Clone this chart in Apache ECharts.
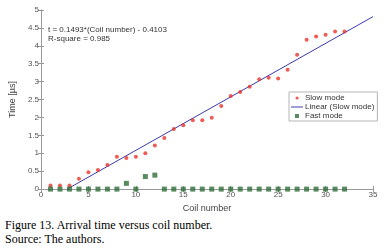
<!DOCTYPE html>
<html>
<head>
<meta charset="UTF-8">
<title>Arrival time versus coil number</title>
<script src="https://cdn.jsdelivr.net/npm/echarts@6/dist/echarts.min.js"></script>
<style>
body { margin: 0; padding: 0; background: #fff; }
#main { width: 386px; height: 218px; }
.cap { font-family: "Liberation Serif", "DejaVu Serif", serif; font-size: 12px; color: #000; margin-left: 5px; line-height: 14px; }
</style>
</head>
<body>
<div id="main"></div>
<div class="cap">Figure 13. Arrival time versus coil number.<br>Source: The authors.</div>
<script>
// coil numbers
var coils = [1,2,3,4,5,6,7,8,9,10,11,12,13,14,15,16,17,18,19,20,21,22,23,24,25,26,27,28,29,30,31,32];
// slow mode arrival time [us]
var slowTimes = [0.1,0.1,0.1,0.29,0.47,0.53,0.67,0.9,0.87,0.9,1.0,1.22,1.43,1.68,1.78,1.92,1.92,1.99,2.32,2.6,2.71,2.86,3.07,3.11,3.09,3.33,3.75,4.17,4.26,4.31,4.4,4.4];
// fast mode arrival time [us]
var fastTimes = [0,0,0,0,0,0,0,0,0.16,0,0.35,0.39,0,0,0,0,0,0,0,0,0,0,0,0,0,0,0,0,0,0,0,0];
// linear fit end points (x, t)
var fitX = [2.75, 35];
var fitT = [0, 4.815];

var slowData = coils.map(function (c, i) { return [c, slowTimes[i]]; });
var fastData = coils.map(function (c, i) { return [c, fastTimes[i]]; });
var fitData = fitX.map(function (x, i) { return [x, fitT[i]]; });

var axisCol = '#9a9a9a';
var labelCol = '#555';
var fontFam = '"Liberation Sans", Arial, sans-serif';

var myChart = echarts.init(document.getElementById('main'));
var option = {
    animation: false,
    grid: { left: 32, right: 13, top: 10, bottom: 14 },
    graphic: [
        { type: 'text', left: 48, top: 26, style: { text: 't = 0.1493*(Coil number) - 0.4103', fontSize: 8, fontFamily: fontFam, fill: '#333' } },
        { type: 'text', left: 48, top: 35, style: { text: 'R-square = 0.985', fontSize: 8, fontFamily: fontFam, fill: '#333' } }
    ],
    legend: {
        orient: 'vertical',
        left: 289, top: 92,
        width: 83,
        padding: [2, 3, 1, 2],
        itemGap: 1,
        itemWidth: 12,
        itemHeight: 6,
        borderColor: '#b5b5b5',
        borderWidth: 1,
        textStyle: { fontSize: 8, fontFamily: fontFam, color: '#333', padding: [0, 0, 0, -3] },
        data: [
            { name: 'Slow mode', icon: 'path://M0,0M12,6M4.5,3A1.6,1.6,0,1,0,7.7,3A1.6,1.6,0,1,0,4.5,3Z', itemStyle: { color: '#e8332a' } },
            { name: 'Linear (Slow mode)', icon: 'path://M0,0M12,6M0,2.5L12,2.5L12,3.5L0,3.5Z', itemStyle: { color: '#3a3ab0' } },
            { name: 'Fast mode', icon: 'path://M0,0M12,6M4,1L8,1L8,5L4,5Z' }
        ]
    },
    xAxis: [{
        type: 'value', min: 0, max: 35, interval: 5,
        name: 'Coil number', nameLocation: 'middle', nameGap: 8,
        nameTextStyle: { fontSize: 9, fontFamily: fontFam, color: '#444' },
        axisLine: { show: true, lineStyle: { color: axisCol } },
        axisTick: { show: true, inside: true, length: 3, lineStyle: { color: axisCol } },
        axisLabel: { fontSize: 8, fontFamily: fontFam, color: labelCol, margin: 2 },
        splitLine: { show: false }
    }, {
        type: 'value', min: 0, max: 35, interval: 5, position: 'top',
        axisLine: { show: true, lineStyle: { color: axisCol } },
        axisTick: { show: true, inside: true, length: 3, lineStyle: { color: axisCol } },
        axisLabel: { show: false }, splitLine: { show: false }
    }],
    yAxis: [{
        type: 'value', min: 0, max: 5, interval: 0.5,
        name: 'Time [\u00b5s]', nameLocation: 'middle', nameGap: 19,
        nameTextStyle: { fontSize: 9, fontFamily: fontFam, color: '#444' },
        axisLine: { show: true, lineStyle: { color: axisCol } },
        axisTick: { show: true, inside: true, length: 3, lineStyle: { color: axisCol } },
        axisLabel: { fontSize: 8, fontFamily: fontFam, color: labelCol, margin: 2 },
        splitLine: { show: false }
    }, {
        type: 'value', min: 0, max: 5, interval: 0.5, position: 'right',
        axisLine: { show: true, lineStyle: { color: axisCol } },
        axisTick: { show: true, inside: true, length: 3, lineStyle: { color: axisCol } },
        axisLabel: { show: false }, splitLine: { show: false }
    }],
    series: [
        { name: 'Slow mode', type: 'scatter', data: slowData, symbol: 'circle', symbolSize: 4, itemStyle: { color: '#e8332a' }, z: 4 },
        { name: 'Linear (Slow mode)', type: 'line', data: fitData, showSymbol: false, symbol: 'none', lineStyle: { color: '#3a3ab0', width: 1 }, itemStyle: { color: '#3a3ab0' }, z: 3 },
        { name: 'Fast mode', type: 'scatter', data: fastData, symbol: 'rect', symbolSize: 5, itemStyle: { color: '#2f6e3a' }, z: 5 }
    ]
};
myChart.setOption(option);
</script>
</body>
</html>
